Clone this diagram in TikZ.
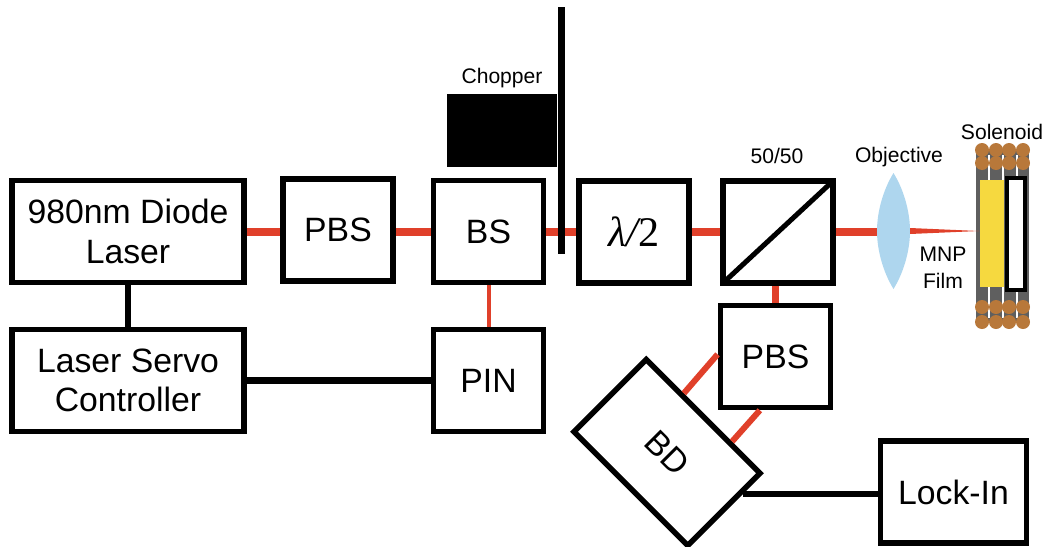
\documentclass[tikz,border=0pt]{standalone}
\usepackage{fontspec}
\setmainfont{Liberation Sans}
\newfontfamily\lamfont{Liberation Serif}
\usetikzlibrary{calc}
\definecolor{beamred}{HTML}{E0402A}
\definecolor{lensblue}{HTML}{AED6EE}
\definecolor{filmyellow}{HTML}{F6D93F}
\definecolor{coilcopper}{HTML}{B8783A}
\definecolor{coilgray}{HTML}{5F5F5F}

\begin{document}
\begin{tikzpicture}[x=0.025cm, y=-0.025cm,
  bx/.style={draw, line width=0.1375cm, fill=white, align=center, inner sep=0pt,
    minimum width=2.76cm, minimum height=2.55cm, font=\fontsize{24}{28}\selectfont},
  lbl/.style={align=center, inner sep=0pt, font=\fontsize{15}{19}\selectfont},
  beam/.style={draw=beamred, line width=0.18cm},
  wire/.style={draw=black, line width=0.16cm}]
  \useasboundingbox (0,0) rectangle (1045,546);

  % beam that runs behind the blade
  \coordinate (beamin) at (546,232);
  \coordinate (beamout) at (576,232);
  \draw[beam] (beamin) -- (beamout);

  % chopper
  \node[fill=black, minimum width=2.75cm, minimum height=1.825cm, inner sep=0pt] (chopper) at (502,130.5) {};
  \coordinate (bladetop) at (561.5,7);
  \coordinate (bladebot) at (561.5,254);
  \draw[line width=0.175cm] (bladetop) -- (bladebot);

  % boxes
  \node[bx, minimum width=5.81cm] (laser) at (128,231.5) {980nm Diode\\ Laser};
  \node[bx, minimum width=5.81cm] (servo) at (128,380.5) {Laser Servo\\ Controller};
  \node[bx] (pbsa) at (338,230) {PBS};
  \node[bx] (bs) at (488.5,231.5) {BS};
  \node[bx] (halfwave) at (634,232) {{\lamfont\fontsize{30}{30}\selectfont\itshape λ/\upshape 2}};
  \node[bx] (split) at (778,232) {};
  \node[bx] (pbsb) at (775.5,356.5) {PBS};
  \node[bx] (pin) at (488.5,380.5) {PIN};
  \node[bx, minimum width=3.64cm] (lockin) at (953.5,492) {Lock-In};
  \node[bx, rotate=-45, minimum width=4.02cm, minimum height=2.55cm] (bd) at (667,452.5) {BD};
  \draw[line width=0.125cm, shorten <=0.1cm, shorten >=0.1cm] (split.south west) -- (split.north east);

  % connectors
  \coordinate (bdout) at ($(bd.north east)!0.27!(bd.south east)$);
  \draw[wire] (laser.south) -- (servo.north);
  \draw[wire] (servo.east) -- (pin.west);
  \draw[wire] (bdout) -- (lockin.west |- bdout);
  \draw[beam] (laser.east |- beamin) -- (pbsa.west |- beamin);
  \draw[beam] (pbsa.east |- beamin) -- (bs.west |- beamin);
  \draw[beam] (halfwave.east) -- (split.west);
  \draw[beam] (split.south -| pbsb.north) -- (pbsb.north);
  \draw[draw=beamred, line width=0.1cm] (bs.south) -- (pin.north);
  \coordinate (bdupper) at ($(bd.north west)!0.32!(bd.north east)$);
  \coordinate (bdlower) at ($(bd.north west)!0.73!(bd.north east)$);
  \coordinate (pbsupper) at ($(pbsb.north west)!0.48!(pbsb.south west)$);
  \coordinate (pbslower) at ($(pbsb.south west)!0.365!(pbsb.south east)$);
  \draw[beam, line width=0.15cm] (bdupper) -- (pbsupper);
  \draw[beam, line width=0.15cm] (bdlower) -- (pbslower);

  % lens and focus
  \fill[lensblue] (893.5,173) .. controls (904,190) and (910,212) .. (910,231)
    .. controls (910,250) and (904,272) .. (893.5,289)
    .. controls (883,272) and (877,250) .. (877,231)
    .. controls (877,212) and (883,190) .. (893.5,173) -- cycle;
  \coordinate (lensleft) at (877,232);
  \draw[beam] (split.east) -- (lensleft);

  % solenoid
  \fill[coilgray] (976,150) rectangle (1029,323);
  \foreach \xc in {989,1003,1017}
    \draw[white, line width=0.03cm] (\xc,155) -- (\xc,318);
  \foreach \xc in {982,996,1009,1023}
    \foreach \yc in {150,163,307,322}
      \fill[coilcopper] (\xc,\yc) circle (0.175cm);
  \fill[filmyellow] (980,180) rectangle (1004,287);
  \draw[fill=white, line width=0.1cm] (1007,178) rectangle (1025,289.5);
  \fill[beamred] (910,228) -- (979,231) -- (910,234) -- cycle;

  % labels
  \node[lbl] (choppertxt) at (502,78.5) {Chopper};
  \node[lbl] (splittxt) at (777,156) {50/50};
  \node[lbl] (lenstxt) at (899,157) {Objective};
  \node[lbl] (coiltxt) at (1002,132) {Solenoid};
  \node[lbl] (filmtxt) at (943,268) {MNP\\ Film};
\end{tikzpicture}
\end{document}
